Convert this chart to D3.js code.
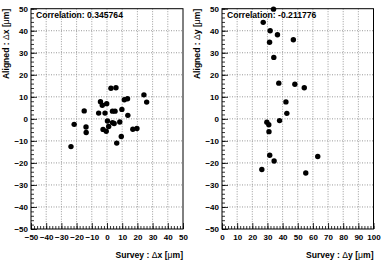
<!DOCTYPE html>
<html>
<head>
<meta charset="utf-8">
<script src="https://cdn.jsdelivr.net/npm/d3@7"></script>
<style>
  body { margin: 0; background: #fff; }
  svg text { font-family: "Liberation Sans", Arial, sans-serif; font-weight: bold; fill: #000; }
</style>
</head>
<body>
<div id="chart"></div>
<script>
// survey dx vs aligned dx
var surveyDx  = [-23.7,-21.6,-15.0,-13.8,-13.7,-5.5,-4.3,-3.1,-0.2,-1.3,2.6,5.9,3.6,5.3,9.8,11.4,13.5,13.7,0.3,3.6,4.7,8.4,-2.6,-0.5,1.1,9.4,6.4,17.0,19.7,24.3,26.1];
var alignedDx = [-12.6,-2.5,3.6,-3.7,-6.2,2.6,7.8,6.2,6.9,2.6,13.9,14.1,3.5,3.5,4.3,8.7,9.1,1.6,-1.0,-1.7,-2.1,-1.4,-4.8,-5.6,-3.5,-8.0,-11.0,-4.7,-4.4,10.9,7.6];

// survey dy vs aligned dy
var surveyDy  = [27.2,34.0,31.8,36.6,31.4,47.1,34.2,37.5,48.1,54.3,42.2,42.8,38.0,29.6,30.9,31.0,31.5,34.4,26.3,55.3,63.2];
var alignedDy = [43.8,49.8,40.0,38.2,34.8,35.9,27.9,16.2,15.7,14.1,7.7,2.5,-0.8,-1.5,-2.7,-5.8,-16.5,-19.1,-23.0,-24.6,-17.1];

var leftXDomain = [-50, 50], rightXDomain = [0, 100], yDomain = [-50, 50];
var leftTitles  = ["Survey : ", "\u0394", "x [", "\u03bc", "m]"];
var leftYTitles = ["Aligned : ", "\u0394", "x [", "\u03bc", "m]"];
var rightTitles = ["Survey : ", "\u0394", "y [", "\u03bc", "m]"];
var rightYTitles= ["Aligned : ", "\u0394", "y [", "\u03bc", "m]"];
var corrLabels  = ["Correlation: 0.345764", "Correlation: -0.211776"];

var W = 382, H = 273;
var svg = d3.select("#chart").append("svg").attr("width", W).attr("height", H);

function addTitle(sel, parts){
    parts.forEach(function(p, i){
        sel.append("tspan").text(p)
           .style("font-weight", (i == 1 || i == 3) ? "normal" : "bold");
    });
}

function panel(x0, x1, xdom, xs, ys, corr, xt, yt){
    var top = 8.7, bot = 229;
    var x = d3.scaleLinear().domain(xdom).range([x0, x1]);
    var y = d3.scaleLinear().domain(yDomain).range([bot, top]);
    var g = svg.append("g");

    var xt10 = d3.range(xdom[0], xdom[1] + 1, 10);
    var yt10 = d3.range(-50, 51, 10);

    // grid
    g.selectAll(".gx").data(xt10.slice(1, -1)).enter().append("line")
        .attr("x1", d => x(d)).attr("x2", d => x(d)).attr("y1", top).attr("y2", bot)
        .attr("stroke", "#999").attr("stroke-width", 1).attr("stroke-dasharray", "1,1.5");
    g.selectAll(".gy").data(yt10.slice(1, -1)).enter().append("line")
        .attr("y1", d => y(d)).attr("y2", d => y(d)).attr("x1", x0).attr("x2", x1)
        .attr("stroke", "#999").attr("stroke-width", 1).attr("stroke-dasharray", "1,1.5");

    // axes with inward ticks
    var xMinor = d3.range(xdom[0], xdom[1] + 0.1, 2);
    var yMinor = d3.range(-50, 50.1, 2);
    g.append("g").attr("transform", "translate(0," + bot + ")")
        .call(d3.axisBottom(x).tickValues(xMinor).tickSize(-3).tickFormat(""))
        .call(a => a.select(".domain").remove());
    g.append("g").attr("transform", "translate(" + x0 + ",0)")
        .call(d3.axisLeft(y).tickValues(yMinor).tickSize(-3).tickFormat(""))
        .call(a => a.select(".domain").remove());
    var xa = g.append("g").attr("transform", "translate(0," + bot + ")")
        .call(d3.axisBottom(x).tickValues(xt10).tickSize(-6).tickPadding(5).tickFormat(d3.format("d")));
    xa.select(".domain").remove();
    xa.selectAll("text").style("font-size", "8px");
    var ya = g.append("g").attr("transform", "translate(" + x0 + ",0)")
        .call(d3.axisLeft(y).tickValues(yt10).tickSize(-6).tickPadding(3).tickFormat(d3.format("d")));
    ya.select(".domain").remove();
    ya.selectAll("text").style("font-size", "8px");
    g.selectAll(".tick line").attr("stroke", "#000").attr("stroke-width", 0.8);

    // frame
    g.append("rect").attr("x", x0).attr("y", top).attr("width", x1 - x0).attr("height", bot - top)
        .attr("fill", "none").attr("stroke", "#000").attr("stroke-width", 1);

    // points
    g.selectAll(".pt").data(xs).enter().append("circle")
        .attr("cx", d => x(d)).attr("cy", (d, i) => y(ys[i])).attr("r", 2.7).attr("fill", "#000");

    g.append("text").attr("x", x0 + 5).attr("y", top + 9).style("font-size", "8.6px").text(corr);

    var tx = g.append("text").attr("x", x1).attr("y", 258).attr("text-anchor", "end").style("font-size", "8.6px");
    addTitle(tx, xt);
    var ty = g.append("text").attr("transform", "translate(" + (x0 - 22) + "," + top + ") rotate(-90)")
        .attr("text-anchor", "end").style("font-size", "8.6px");
    addTitle(ty, yt);
}

panel(31, 183, leftXDomain, surveyDx, alignedDx, corrLabels[0], leftTitles, leftYTitles);
panel(222, 373.5, rightXDomain, surveyDy, alignedDy, corrLabels[1], rightTitles, rightYTitles);
</script>
</body>
</html>
